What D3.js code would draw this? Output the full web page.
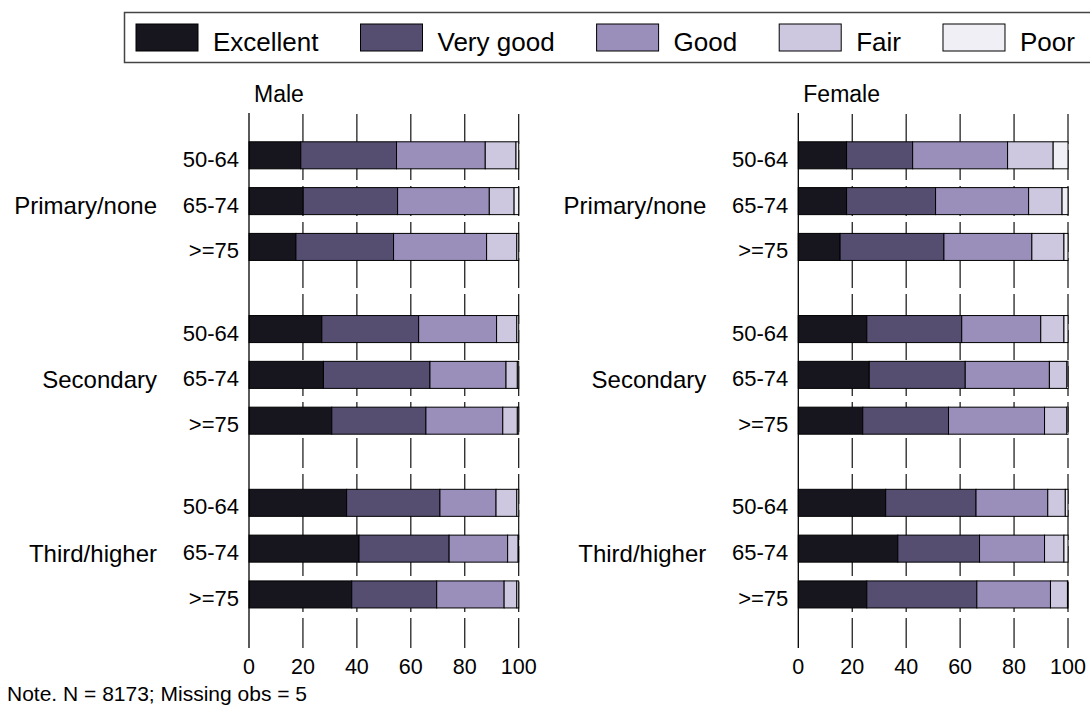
<!DOCTYPE html>
<html>
<head>
<meta charset="utf-8">
<script src="https://cdn.jsdelivr.net/npm/d3@7"></script>
<style>
  body { margin: 0; background: #fff; }
  svg { display: block; font-family: "Liberation Sans", Arial, sans-serif; }
</style>
</head>
<body>
<svg width="1090" height="711"></svg>
<script>
const groups = ["Primary/none", "Secondary", "Third/higher"]
const ages = ["50-64", "65-74", ">=75"]
const ratings = ["Excellent", "Very good", "Good", "Fair", "Poor"]
const xTicks = [0, 20, 40, 60, 80, 100]
const panels = ["Male", "Female"]
const colors = ["#17161f", "#554e70", "#9a8fba", "#cdc8df", "#f0eff5"]
const note = "Note. N = 8173; Missing obs = 5"

// rows go group by group, ages inside
const maleExcellent = [19.2, 20.1, 17.4, 27.0, 27.6, 30.7, 36.2, 40.8, 38.1]
const maleVeryGood  = [35.5, 35.0, 36.2, 35.9, 39.5, 34.9, 34.6, 33.4, 31.5]
const maleGood      = [32.9, 34.0, 34.5, 28.9, 28.2, 28.5, 20.8, 21.7, 25.0]
const maleFair      = [11.4, 9.2, 11.2, 7.5, 4.2, 5.4, 7.7, 3.9, 4.7]
const malePoor      = [1.0, 1.7, 0.7, 0.7, 0.5, 0.5, 0.7, 0.2, 0.7]

const femaleExcellent = [17.9, 17.9, 15.5, 25.4, 26.3, 23.9, 32.4, 36.9, 25.4]
const femaleVeryGood  = [24.5, 33.0, 38.5, 35.2, 35.6, 31.8, 33.5, 30.3, 40.8]
const femaleGood      = [35.2, 34.5, 32.6, 29.3, 31.2, 35.6, 26.6, 24.1, 27.3]
const femaleFair      = [16.9, 12.4, 11.9, 8.6, 6.5, 8.3, 6.5, 7.2, 6.3]
const femalePoor      = [5.5, 2.2, 1.5, 1.5, 0.4, 0.4, 1.0, 1.5, 0.2]

const series = {
  Male: [maleExcellent, maleVeryGood, maleGood, maleFair, malePoor],
  Female: [femaleExcellent, femaleVeryGood, femaleGood, femaleFair, femalePoor]
}

const svg = d3.select("svg")
const plotTop = 113, plotBottom = 648, plotW = 269.7
const panelX = {Male: 249, Female: 798.3}

const x = d3.scaleLinear().domain([0, 100]).range([0, plotW])
const yGroup = d3.scaleBand()
  .domain(groups)
  .range([plotTop, plotBottom])
  .paddingInner(0.101)
  .paddingOuter(0.09)
  .align(0.32)
const yAge = d3.scaleBand()
  .domain(ages)
  .range([0, yGroup.bandwidth()])
  .padding(0.41)

const makeRows = (panel) => {
  const rows = []
  groups.forEach((g, gi) => {
    ages.forEach((a, ai) => {
      const r = {group: g, age: a}
      ratings.forEach((k, ki) => r[k] = series[panel][ki][gi * ages.length + ai])
      rows.push(r)
    })
  })
  return rows
}

const stack = d3.stack().keys(ratings)

panels.forEach(panel => {
  const g = svg.append("g").attr("transform", `translate(${panelX[panel]},0)`)
  const rows = makeRows(panel)
  const yOf = d => yGroup(d.group) + yAge(d.age)

  // dashed grid lines, drawn bottom up
  g.selectAll(".grid")
    .data(xTicks.slice(1))
    .join("line")
      .attr("x1", d => x(d)).attr("x2", d => x(d))
      .attr("y1", plotBottom).attr("y2", plotTop)
      .attr("stroke", "#111")
      .attr("stroke-width", 1.2)
      .attr("stroke-dasharray", "30,6")

  g.selectAll(".layer")
    .data(stack(rows))
    .join("g")
      .attr("fill", (d, i) => colors[i])
    .selectAll("rect")
    .data(d => d)
    .join("rect")
      .attr("x", d => x(d[0]))
      .attr("width", d => x(d[1]) - x(d[0]))
      .attr("y", d => yOf(d.data))
      .attr("height", yAge.bandwidth())
      .attr("stroke", "#000")
      .attr("stroke-width", 1)

  g.append("line")
    .attr("x1", 0).attr("x2", 0)
    .attr("y1", plotTop).attr("y2", plotBottom)
    .attr("stroke", "#000")
    .attr("stroke-width", 1.3)

  // age labels
  g.selectAll(".age")
    .data(rows)
    .join("text")
      .attr("x", -10)
      .attr("y", d => yOf(d) + yAge.bandwidth() / 2 + 11.5)
      .attr("text-anchor", "end")
      .attr("font-size", 22)
      .text(d => d.age)

  // group labels
  g.selectAll(".grp")
    .data(groups)
    .join("text")
      .attr("x", -92)
      .attr("y", d => yGroup(d) + yAge(ages[1]) + yAge.bandwidth() / 2 + 13)
      .attr("text-anchor", "end")
      .attr("font-size", 24)
      .text(d => d)

  g.selectAll(".tick")
    .data(xTicks)
    .join("text")
      .attr("x", d => x(d))
      .attr("y", 674)
      .attr("text-anchor", "middle")
      .attr("font-size", 21.5)
      .text(d => d)

  g.append("text")
    .attr("x", 5)
    .attr("y", 102)
    .attr("font-size", 23)
    .text(panel)
})

svg.append("text")
  .attr("x", 7)
  .attr("y", 701)
  .attr("font-size", 21)
  .text(note)

// legend
const legend = svg.append("g")
legend.append("rect")
  .attr("x", 124.5).attr("y", 12.5)
  .attr("width", 1000).attr("height", 50)
  .attr("fill", "#fff")
  .attr("stroke", "#444")
  .attr("stroke-width", 1.5)

let lx = 136
ratings.forEach((r, i) => {
  legend.append("rect")
    .attr("x", lx).attr("y", 24)
    .attr("width", 62).attr("height", 27)
    .attr("fill", colors[i])
    .attr("stroke", "#000")
  const t = legend.append("text")
    .attr("x", lx + 77)
    .attr("y", 51)
    .attr("font-size", 26)
    .text(r)
  lx = lx + 77 + t.node().getComputedTextLength() + 42
})
</script>
</body>
</html>
